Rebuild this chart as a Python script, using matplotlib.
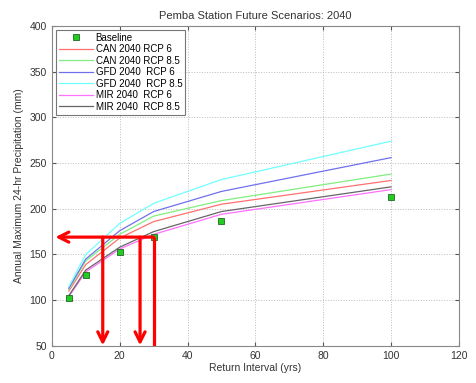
import matplotlib.pyplot as plt

plt.rcParams['font.family'] = ['Liberation Sans', 'DejaVu Sans']

# return intervals (yrs)
years = [5, 10, 20, 30, 50, 100]

# precipitation (mm)
baseline = [102, 128, 153, 169, 187, 213]
can_rcp6 = [110, 139, 168, 186, 205, 231]
can_rcp85 = [112, 143, 172, 192, 209, 238]
gfd_rcp6 = [113, 145, 176, 197, 219, 256]
gfd_rcp85 = [115, 150, 184, 206, 232, 274]
mir_rcp6 = [104, 131, 156, 172, 194, 221]
mir_rcp85 = [105, 133, 158, 175, 197, 224]

labels = ['CAN 2040 RCP 6', 'CAN 2040 RCP 8.5', 'GFD 2040  RCP 6',
          'GFD 2040  RCP 8.5', 'MIR 2040  RCP 6', 'MIR 2040  RCP 8.5']
colors = ['#ff7070', '#80ee80', '#7070ee', '#70ffff', '#ff70ff', '#666666']

# design value read-off
design_value = 169
read_years = [15, 26, 30]

fig = plt.figure(figsize=(4.76, 3.83), dpi=100)
ax = fig.add_axes([0.109, 0.097, 0.855, 0.835])

ax.plot(years, baseline, 's', color='#22cc22', markeredgecolor='#226622',
        markersize=5, markeredgewidth=0.6, label='Baseline', zorder=5)
for series, lab, col in zip([can_rcp6, can_rcp85, gfd_rcp6, gfd_rcp85, mir_rcp6, mir_rcp85],
                            labels, colors):
    ax.plot(years, series, color=col, linewidth=0.9, label=lab)

# red read-off arrows
red = '#ff0000'
ax.annotate('', xy=(1, design_value), xytext=(read_years[-1], design_value),
            arrowprops=dict(arrowstyle='->', color=red, lw=2.3, mutation_scale=18,
                            shrinkA=0, shrinkB=0), zorder=6)
for x in read_years[:-1]:
    ax.annotate('', xy=(x, 50.5), xytext=(x, design_value),
                arrowprops=dict(arrowstyle='->', color=red, lw=2.3, mutation_scale=18,
                                shrinkA=0, shrinkB=0), zorder=6)
ax.plot([read_years[-1], read_years[-1]], [50, design_value], color=red, lw=2.3,
        solid_capstyle='butt', zorder=6)

ax.set_xlim(0, 120)
ax.set_ylim(50, 400)
ax.set_xticks(range(0, 121, 20))
ax.set_yticks(range(50, 401, 50))
ax.grid(True, linestyle=':', color='#bbbbbb', linewidth=0.7)
ax.tick_params(direction='in', labelsize=7.5, length=3, color='#555555', top=True, right=True,
               labelcolor='#333333')
for s in ax.spines.values():
    s.set_color('#888888')
    s.set_linewidth(0.8)

ax.set_title('Pemba Station Future Scenarios: 2040', fontsize=8, color='#333333', pad=5)
ax.set_xlabel('Return Interval (yrs)', fontsize=7.5, color='#333333', labelpad=2)
ax.set_ylabel('Annual Maximum 24-hr Precipitation (mm)', fontsize=7.5, color='#333333', labelpad=4)

leg = ax.legend(loc='upper left', fontsize=7, frameon=True, fancybox=False,
                edgecolor='#555555', borderpad=0.3, labelspacing=0.15,
                handlelength=3.5, handletextpad=0.3, borderaxespad=0.4)
leg.get_frame().set_linewidth(0.8)

fig.savefig('out.png', dpi=100)
